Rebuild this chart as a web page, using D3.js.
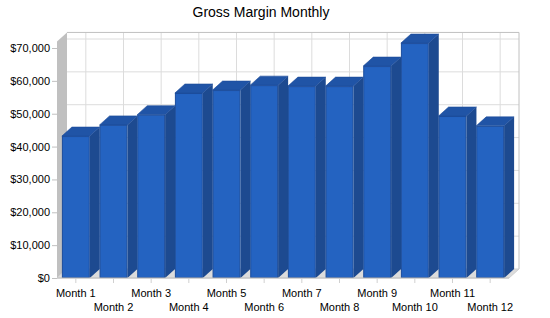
<html>
  <head>
    <script src="https://d3js.org/d3.v7.min.js"></script>
    <style>
      body { margin: 0; background: #fff; }
      text { font-family: "Liberation Sans", Arial, sans-serif; fill: #000; }
    </style>
  </head>
  <body>
    <div id="chart"></div>
    <script>
      // data
      const months = ["Month 1", "Month 2", "Month 3", "Month 4", "Month 5", "Month 6",
                      "Month 7", "Month 8", "Month 9", "Month 10", "Month 11", "Month 12"];
      const grossMargin = [43200, 46600, 49700, 56300, 57200, 58700,
                           58400, 58400, 64500, 71500, 49300, 46300];
      const yTicks = [0, 10000, 20000, 30000, 40000, 50000, 60000, 70000];
      const wallTop = 72000;

      const width = 550, height = 318;
      const margin = {top: 48, right: 41, bottom: 40, left: 57};
      const depthX = 10, depthY = -9;

      const svg = d3.create("svg")
        .attr("width", width)
        .attr("height", height);

      const xScale = d3.scaleBand()
        .domain(months)
        .range([margin.left, width - margin.right])
        .padding(0);

      const yScale = d3.scaleLinear()
        .domain([0, 70000])
        .range([height - margin.bottom, margin.top]);

      const x0 = margin.left, x1 = width - margin.right;
      const yBase = yScale(0), yTop = yScale(wallTop);
      const barW = xScale.bandwidth() * 0.74;

      // back wall
      svg.append("rect")
        .attr("x", x0 + depthX).attr("y", yTop + depthY)
        .attr("width", x1 - x0).attr("height", yBase - yTop)
        .attr("fill", "#fff");

      // grid on the back wall
      svg.append("g")
        .selectAll("line")
        .data(yTicks.slice(1))
        .join("line")
        .attr("x1", x0 + depthX).attr("x2", x1 + depthX)
        .attr("y1", d => yScale(d) + depthY).attr("y2", d => yScale(d) + depthY)
        .attr("stroke", "#dcdcdc");

      svg.append("g")
        .selectAll("line")
        .data(months)
        .join("line")
        .attr("x1", d => xScale(d) + xScale.bandwidth() / 2 + depthX)
        .attr("x2", d => xScale(d) + xScale.bandwidth() / 2 + depthX)
        .attr("y1", yTop + depthY).attr("y2", yBase + depthY)
        .attr("stroke", "#dcdcdc");

      // wall border
      svg.append("path")
        .attr("d", `M${x0 + depthX},${yTop + depthY}H${x1 + depthX}V${yBase + depthY}`)
        .attr("fill", "none")
        .attr("stroke", "#c0c0c0");

      // left side wall
      svg.append("polygon")
        .attr("points", [[x0, yTop], [x0 + depthX, yTop + depthY],
                         [x0 + depthX, yBase + depthY], [x0, yBase]].join(" "))
        .attr("fill", "#c0c0c0");

      // floor
      svg.append("polygon")
        .attr("points", [[x0, yBase], [x0 + depthX, yBase + depthY],
                         [x1 + depthX, yBase + depthY], [x1, yBase]].join(" "))
        .attr("fill", "#dcdcdc")
        .attr("stroke", "#d0d0d0");

      // bars
      const bars = svg.append("g")
        .selectAll("g")
        .data(months.map((m, i) => ({month: m, value: grossMargin[i]})))
        .join("g");

      const bx = d => xScale(d.month) + (xScale.bandwidth() - barW) / 2;

      bars.append("polygon")
        .attr("points", d => {
          const l = bx(d) + barW, t = yScale(d.value);
          return [[l, t], [l + depthX, t + depthY], [l + depthX, yBase + depthY], [l, yBase]].join(" ");
        })
        .attr("fill", "#1d4a90");

      bars.append("polygon")
        .attr("points", d => {
          const l = bx(d), t = yScale(d.value);
          return [[l, t], [l + depthX, t + depthY], [l + barW + depthX, t + depthY], [l + barW, t]].join(" ");
        })
        .attr("fill", "#2054a6")
        .attr("stroke", "#1c4c98")
        .attr("stroke-width", 0.6);

      bars.append("rect")
        .attr("x", d => bx(d) + 0.5)
        .attr("y", d => yScale(d.value) + 0.5)
        .attr("width", barW - 1)
        .attr("height", d => yBase - yScale(d.value) - 1)
        .attr("fill", "#2463c1")
        .attr("stroke", "#1b4c9c");

      // y axis
      const yAxis = svg.append("g")
        .attr("transform", `translate(${x0}, 0)`)
        .call(d3.axisLeft(yScale).tickValues(yTicks).tickSize(5).tickPadding(2)
          .tickFormat(d => "$" + d3.format(",")(d)));
      yAxis.select(".domain").remove();
      yAxis.selectAll(".tick line").attr("stroke", "#c0c0c0");
      yAxis.selectAll(".tick text").attr("font-size", 11).attr("font-family", "Liberation Sans, Arial, sans-serif");

      // x axis
      svg.append("line")
        .attr("x1", x0).attr("x2", x1)
        .attr("y1", yBase).attr("y2", yBase)
        .attr("stroke", "#c0c0c0");

      const xAxis = svg.append("g")
        .attr("transform", `translate(0, ${yBase})`)
        .call(d3.axisBottom(xScale).tickSize(5).tickPadding(6));
      xAxis.select(".domain").remove();
      xAxis.selectAll(".tick line").attr("stroke", "#d0d0d0");
      xAxis.selectAll(".tick text")
        .attr("font-size", 11)
        .attr("font-family", "Liberation Sans, Arial, sans-serif")
        .attr("dy", (d, i) => i % 2 === 0 ? "0.71em" : "2em");

      // title
      svg.append("text")
        .attr("x", 261).attr("y", 17)
        .attr("text-anchor", "middle")
        .attr("font-size", 14)
        .text("Gross Margin Monthly");

      document.getElementById("chart").appendChild(svg.node());
    </script>
  </body>
</html>
